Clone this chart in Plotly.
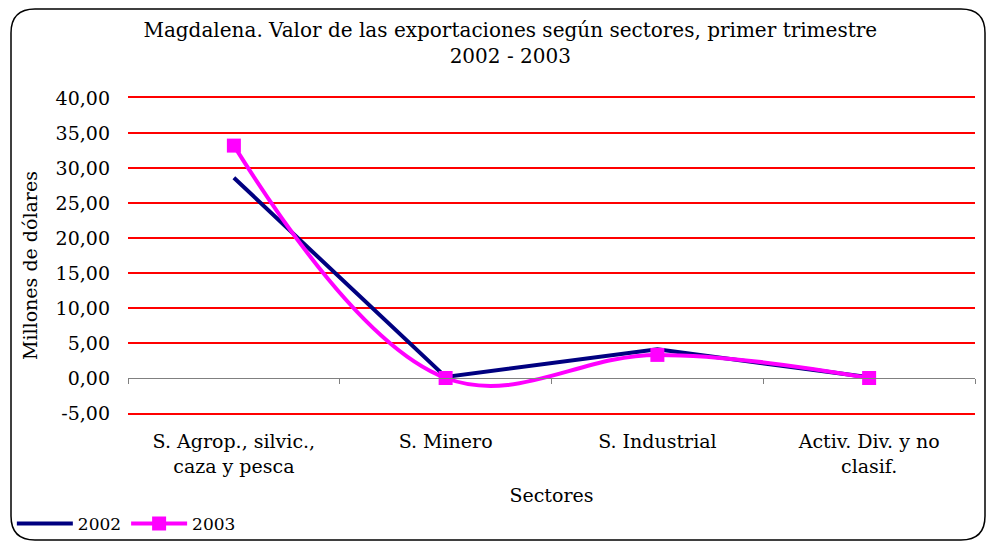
import plotly.graph_objects as go

SECTORES = ["S. Agrop., silvic.,<br>caza y pesca", "S. Minero", "S. Industrial",
            "Activ. Div. y no<br>clasif."]
V2002 = [28.6, 0.15, 4.1, 0.1]
V2003 = [33.2, 0.0, 3.3, 0.0]
YTICKS = [-5, 0, 5, 10, 15, 20, 25, 30, 35, 40]
YTICKTEXT = ["-5,00", "0,00", "5,00", "10,00", "15,00", "20,00", "25,00",
             "30,00", "35,00", "40,00"]

W, H = 987, 542
L, R, T, B = 128, 12, 98, 129
FONT = "DejaVu Serif"


def px(x):
    return (x - L) / (W - L - R)


def py(y):
    return (H - B - y) / (H - T - B)


def border(x0, y0, x1, y1, r):
    # rounded frame round the whole chart, given in pixels
    return (
        f"M {px(x0 + r)},{py(y0)} L {px(x1 - r)},{py(y0)} "
        f"Q {px(x1)},{py(y0)} {px(x1)},{py(y0 + r)} "
        f"L {px(x1)},{py(y1 - r)} Q {px(x1)},{py(y1)} {px(x1 - r)},{py(y1)} "
        f"L {px(x0 + r)},{py(y1)} Q {px(x0)},{py(y1)} {px(x0)},{py(y1 - r)} "
        f"L {px(x0)},{py(y0 + r)} Q {px(x0)},{py(y0)} {px(x0 + r)},{py(y0)} Z"
    )


fig = go.Figure()
fig.add_trace(go.Scatter(
    x=SECTORES, y=V2002, name="2002", mode="lines",
    line=dict(color="#000080", width=4),
))
fig.add_trace(go.Scatter(
    x=SECTORES, y=V2003, name="2003", mode="lines+markers",
    line=dict(color="#ff00ff", width=4, shape="spline", smoothing=1.1),
    marker=dict(symbol="square", size=14, color="#ff00ff"),
))
# carrier for the category axis drawn at y = 0
fig.add_trace(go.Scatter(
    x=SECTORES, y=[None] * 4, xaxis="x2", showlegend=False,
    hoverinfo="skip", mode="lines",
))

fig.add_shape(type="path", xref="paper", yref="paper",
              path=border(11, 9, 985, 540, 24),
              line=dict(color="#000000", width=1.5), layer="below")

fig.add_annotation(
    text="Millones de dólares", textangle=-90, showarrow=False,
    xref="paper", x=px(30), yref="paper", y=py(266),
    xanchor="center", yanchor="middle", font=dict(size=19),
)

fig.update_layout(
    width=W, height=H,
    plot_bgcolor="#ffffff", paper_bgcolor="#ffffff",
    font=dict(family=FONT, size=19, color="#000000"),
    margin=dict(l=L, r=R, t=T, b=B, autoexpand=False),
    title=dict(
        text="Magdalena. Valor de las exportaciones según sectores, primer trimestre<br>2002 - 2003",
        xref="container", x=0.517, xanchor="center",
        yref="container", y=0.932, yanchor="top",
        font=dict(family=FONT, size=20),
    ),
    xaxis=dict(
        type="category", categoryarray=SECTORES, range=[-0.5, 3.5],
        showgrid=False, zeroline=False, ticks="", automargin=False,
        showline=True, mirror=True, linecolor="#ff0000", linewidth=2,
        ticklabelstandoff=10,
        title=dict(text="Sectores", standoff=24, font=dict(size=19)),
    ),
    xaxis2=dict(
        type="category", categoryarray=SECTORES, range=[-0.5, 3.5],
        overlaying="x", anchor="free", position=5 / 45,
        showgrid=False, showline=True, linecolor="#808080", linewidth=1,
        ticks="outside", tickson="boundaries", ticklen=5, tickcolor="#808080",
        showticklabels=False, zeroline=False,
    ),
    yaxis=dict(
        range=[-5, 40], tickvals=YTICKS, ticktext=YTICKTEXT,
        showgrid=True, gridcolor="#ff0000", gridwidth=2, automargin=False,
        zeroline=True, zerolinecolor="#808080", zerolinewidth=1,
        showline=False, ticks="", ticklabelstandoff=17,
    ),
    showlegend=True,
    legend=dict(
        orientation="h", xref="container", x=0.012, xanchor="left",
        yref="container", y=0.0, yanchor="bottom",
        font=dict(family=FONT, size=17), itemwidth=56,
        bgcolor="rgba(0,0,0,0)", tracegroupgap=0,
    ),
)

fig.write_html("out.html", config={"displayModeBar": False},
               post_script="document.body.style.margin = '0';")
